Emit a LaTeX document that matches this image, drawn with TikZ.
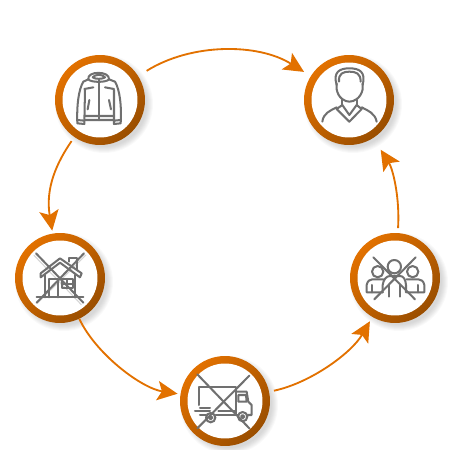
\documentclass[tikz,border=0pt]{standalone}
\usepackage{xcolor}
\definecolor{RingOrange}{HTML}{E27100}
\definecolor{RingDark}{HTML}{9A4E00}
\definecolor{IconGray}{HTML}{707070}
\usetikzlibrary{arrows.meta,positioning}

\begin{document}
\begin{tikzpicture}[x=0.02cm, y=-0.02cm,
    ring/.style={circle, minimum size=1.8cm, inner sep=0pt, outer sep=0.1cm, top color=RingOrange, middle color=RingOrange, bottom color=RingDark, shading angle=45, path picture={\fill[white] (path picture bounding box.center) circle (0.75cm);}},
    link/.style={-{Stealth[length=11.5pt, width=11pt, inset=2.5pt]}, line width=1.05pt, RingOrange},
    icon/.style={IconGray, line width=1.15pt, line join=round, line cap=round},
    thin icon/.style={IconGray!30, line width=0.6pt},
    zoomed/.style={x=0.00667cm, y=-0.00667cm}]
    \useasboundingbox (0,0) rectangle (450,450);

    \foreach \cx/\cy in {100/100, 349/100, 60/278, 225/401, 395/278} {
        \foreach \rr in {49,48,47,46,45,44,43} {
            \fill[black, opacity=0.025] (\cx+4,\cy+4) circle (\rr*0.02cm);
        }
    }

    \node[ring] (jacket) at (100,100) {};
    \node[ring] (person) at (349,100) {};
    \node[ring] (house) at (60,278) {};
    \node[ring] (truck) at (225,401) {};
    \node[ring] (people) at (395,278) {};

    \draw[link, shorten <=0.1cm, shorten >=0.06cm] (jacket) to[bend left=32, looseness=0.9] (person);
    \draw[link, shorten >=-0.04cm] (jacket) to[bend right=22] (house);
    \draw[link, shorten <=-0.1cm, shorten >=-0.04cm] (house) to[bend right=28, looseness=0.75] (truck);
    \draw[link] (truck) to[bend right=24, looseness=0.8] (people);
    \draw[link, shorten >=0.18cm] (people) to[bend right=18, looseness=0.9] (person);

    \begin{scope}[shift={(40,40)}, zoomed, icon]
        \draw (145,118) .. controls (140,92) and (210,92) .. (207,118) .. controls (200,128) and (152,128) .. (145,118);
        \draw (158,112) .. controls (165,102) and (188,102) .. (195,112) .. controls (188,118) and (165,118) .. (158,112);
        \draw (145,118) -- (130,125) .. controls (115,150) and (110,200) .. (112,250) -- (133,252) -- (135,150);
        \draw (207,118) -- (225,125) .. controls (240,150) and (245,200) .. (242,250) -- (222,252) -- (222,150);
        \draw (133,147) -- (160,142) (222,147) -- (195,142);
        \draw (135,228) -- (222,228) (135,240) -- (222,240) (112,240) -- (133,242) (242,240) -- (222,242);
        \draw (177,118) -- (177,240);
        \draw (148,180) -- (143,208) (207,180) -- (213,208);
    \end{scope}

    \begin{scope}[shift={(290,40)}, zoomed, icon]
        \draw (140,135) .. controls (128,95) and (150,85) .. (178,85) .. controls (208,85) and (228,95) .. (218,135);
        \draw (147,125) .. controls (145,100) and (160,95) .. (178,95) .. controls (198,95) and (212,100) .. (212,125);
        \draw (140,130) -- (140,148) .. controls (145,175) and (165,185) .. (178,185) .. controls (192,185) and (212,175) .. (218,148) -- (218,130);
        \draw (157,180) -- (157,195) (200,180) -- (200,195);
        \draw (157,195) -- (140,207) -- (178,245) -- (215,207) -- (200,195);
        \draw (157,195) -- (178,225) -- (200,195);
        \draw (140,202) .. controls (120,212) and (100,220) .. (97,245);
        \draw (215,202) .. controls (235,212) and (255,220) .. (260,245);
    \end{scope}

    \begin{scope}[shift={(0,220)}, zoomed, icon]
        \draw[thin icon] (112,250) -- (258,105) (102,106) -- (244,254);
        \draw (108,100) -- (250,248) (252,100) -- (110,248);
        \draw (122,160) -- (180,115) -- (245,160) (122,172) -- (180,128) -- (240,172) (122,160) -- (122,172) (245,160) -- (240,172);
        \draw (135,165) -- (135,232) (225,165) -- (225,232) (110,232) -- (250,232);
        \draw (147,232) -- (147,178) -- (175,178) -- (175,232);
        \draw (185,178) rectangle (218,205) (201,178) -- (201,205) (185,191) -- (218,191);
        \draw (207,125) -- (207,115) -- (232,115) -- (232,150);
    \end{scope}

    \begin{scope}[shift={(165,340)}, zoomed, icon]
        \draw (97,103) -- (253,265) (253,107) -- (97,265);
        \draw (102,195) -- (102,140) -- (212,140) -- (212,225);
        \draw (212,155) -- (245,155) -- (250,185) -- (260,195) -- (260,225) -- (248,225);
        \draw (220,165) -- (243,165) -- (245,185) -- (220,185) -- cycle;
        \draw (137,233) circle (14) (137,233) circle (5);
        \draw (233,230) circle (14) (233,230) circle (5);
        \draw (90,213) -- (135,213) (105,203) -- (135,203) (105,225) -- (122,225);
        \draw (152,225) -- (218,225) (160,213) -- (212,213);
    \end{scope}

    \begin{scope}[shift={(335,220)}, zoomed, icon]
        \draw (115,112) -- (240,238) (242,112) -- (118,238);
        \draw (178,140) circle (20) (128,155) circle (17) (233,155) circle (17);
        \draw (143,217) -- (95,217) -- (95,195) .. controls (97,183) and (105,178) .. (112,178) -- (145,178);
        \draw (215,217) -- (268,217) -- (268,195) .. controls (266,183) and (258,178) .. (250,178) -- (215,178);
        \draw (143,217) -- (143,195) .. controls (145,178) and (155,168) .. (165,168) -- (195,168) .. controls (205,168) and (212,178) .. (213,195) -- (213,217);
        \draw (112,195) -- (112,217) (250,195) -- (250,217) (163,195) -- (163,230) (195,195) -- (195,230);
    \end{scope}
\end{tikzpicture}
\end{document}
